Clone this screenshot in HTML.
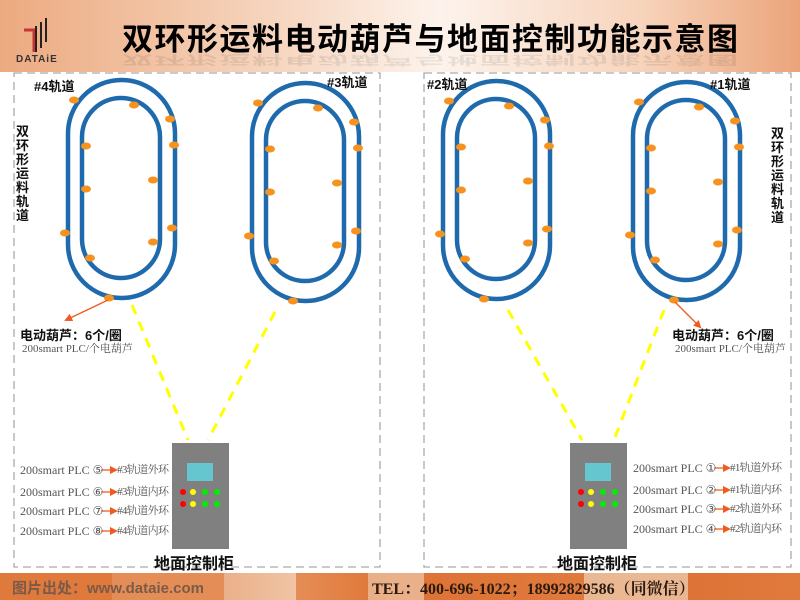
<!DOCTYPE html><html><head><meta charset="utf-8"><style>
body{margin:0;width:800px;height:600px;overflow:hidden;background:#fff;position:relative;font-family:"Liberation Sans","Noto Sans CJK SC",sans-serif}
.a{position:absolute;white-space:nowrap}
.s{font-family:"Liberation Serif","Noto Serif CJK SC",serif;color:#555;font-size:12px;line-height:14px}
.d{font-family:"DejaVu Sans",sans-serif;font-size:12px;font-weight:normal;line-height:14px}
.k{font-size:11px;letter-spacing:-0.6px;line-height:14px}
.b{font-weight:bold;color:#111}
</style></head><body>
<div class="a" style="left:0;top:0;width:800px;height:72px;background:linear-gradient(90deg,#ecaa80 0%,#f6d6c0 35%,#fdf3ec 55%,#f7d4bc 80%,#eba47a 100%)"></div>
<div class="a b" style="left:122px;top:14px;font-size:31px;letter-spacing:1.5px;color:#000">双环形运料电动葫芦与地面控制功能示意图</div>
<div class="a b" style="left:122px;font-size:31px;letter-spacing:1.5px;color:#000;opacity:.08;transform:scaleY(-0.4);transform-origin:top;top:70px">双环形运料电动葫芦与地面控制功能示意图</div>
<svg class="a" style="left:0;top:0" width="800" height="600">
<g fill="none" stroke="#c33" stroke-width="3"><path d="M24 30h10v22"/></g>
<g fill="none" stroke="#222" stroke-width="2"><path d="M36 26v26M41 22v26M46 18v24"/></g>
<g stroke="#aaa" stroke-width="1.3" stroke-dasharray="8,5" fill="none"><rect x="14" y="73" width="366" height="494"/><rect x="424" y="73" width="367" height="494"/></g>
<g stroke="#ffff00" stroke-width="3" stroke-dasharray="10,8"><line x1="132" y1="305" x2="188" y2="440"/><line x1="275" y1="312" x2="208" y2="440"/><line x1="508" y1="310" x2="582" y2="440"/><line x1="664" y1="310" x2="614" y2="440"/></g>
<defs><g id="t"><rect x="0" y="0" width="107" height="218" rx="53.5" fill="none" stroke="#1f6aad" stroke-width="4.5"/><rect x="14" y="18" width="78" height="180" rx="39" fill="none" stroke="#1f6aad" stroke-width="4.5"/>
<g fill="#f7921e"><ellipse cx="6" cy="20" rx="5" ry="3.5"/><ellipse cx="66" cy="25" rx="5" ry="3.5"/><ellipse cx="102" cy="39" rx="5" ry="3.5"/><ellipse cx="106" cy="65" rx="5" ry="3.5"/><ellipse cx="18" cy="66" rx="5" ry="3.5"/><ellipse cx="85" cy="100" rx="5" ry="3.5"/><ellipse cx="18" cy="109" rx="5" ry="3.5"/><ellipse cx="-3" cy="153" rx="5" ry="3.5"/><ellipse cx="104" cy="148" rx="5" ry="3.5"/><ellipse cx="85" cy="162" rx="5" ry="3.5"/><ellipse cx="22" cy="178" rx="5" ry="3.5"/><ellipse cx="41" cy="218" rx="5" ry="3.5"/></g></g>
<g id="c"><rect x="0" y="0" width="57" height="106" fill="#808080"/><rect x="15" y="20" width="26" height="18" fill="#66c6d0"/><g><circle cx="11" cy="49" r="3" fill="#f00"/><circle cx="21" cy="49" r="3" fill="#ff0"/><circle cx="33" cy="49" r="3" fill="#0e0"/><circle cx="45" cy="49" r="3" fill="#0e0"/><circle cx="11" cy="61" r="3" fill="#f00"/><circle cx="21" cy="61" r="3" fill="#ff0"/><circle cx="33" cy="61" r="3" fill="#0e0"/><circle cx="45" cy="61" r="3" fill="#0e0"/></g></g>
<marker id="m" markerWidth="8" markerHeight="8" refX="6" refY="4" orient="auto" markerUnits="userSpaceOnUse"><path d="M0 0L8 4L0 8z" fill="#f05a1e"/></marker></defs>
<use href="#t" x="68" y="80"/><use href="#t" x="252" y="83"/><use href="#t" x="443" y="81"/><use href="#t" x="633" y="82"/>
<use href="#c" x="172" y="443"/><use href="#c" x="570" y="443"/>
<g stroke="#f05a1e" stroke-width="1.3" marker-end="url(#m)"><line x1="108" y1="300" x2="66" y2="320"/><line x1="675" y1="302" x2="700" y2="327"/>
<line x1="101" y1="470" x2="116" y2="470"/><line x1="101" y1="492" x2="116" y2="492"/><line x1="101" y1="511" x2="116" y2="511"/><line x1="101" y1="531" x2="116" y2="531"/>
<line x1="714" y1="468" x2="729" y2="468"/><line x1="714" y1="490" x2="729" y2="490"/><line x1="714" y1="509" x2="729" y2="509"/><line x1="714" y1="529" x2="729" y2="529"/></g>
</svg>
<div class="a" style="left:16px;top:54px;font-size:10px;font-weight:bold;color:#333;letter-spacing:1px">DATAiE</div>
<div class="a b" style="left:34px;top:76px;font-size:13px">#4轨道</div>
<div class="a b" style="left:327px;top:72px;font-size:13px">#3轨道</div>
<div class="a b" style="left:427px;top:74px;font-size:13px">#2轨道</div>
<div class="a b" style="left:710px;top:74px;font-size:13px">#1轨道</div>
<div class="a b" style="left:16px;top:125px;font-size:13px;line-height:14px;white-space:normal;width:14px">双环形运料轨道</div>
<div class="a b" style="left:771px;top:127px;font-size:13px;line-height:14px;white-space:normal;width:14px">双环形运料轨道</div>
<div class="a b" style="left:20px;top:325px;font-size:13px">电动葫芦：6个/圈</div>
<div class="a s" style="left:22px;top:342px;font-size:11px">200smart PLC/个电葫芦</div>
<div class="a b" style="left:672px;top:325px;font-size:13px">电动葫芦：6个/圈</div>
<div class="a s" style="left:675px;top:342px;font-size:11px">200smart PLC/个电葫芦</div>
<div class="a s" style="left:20px;top:463px">200smart PLC <span class="d">⑤</span></div><div class="a s k" style="left:117px;top:463px">#3轨道外环</div>
<div class="a s" style="left:20px;top:485px">200smart PLC <span class="d">⑥</span></div><div class="a s k" style="left:117px;top:485px">#3轨道内环</div>
<div class="a s" style="left:20px;top:504px">200smart PLC <span class="d">⑦</span></div><div class="a s k" style="left:117px;top:504px">#4轨道外环</div>
<div class="a s" style="left:20px;top:524px">200smart PLC <span class="d">⑧</span></div><div class="a s k" style="left:117px;top:524px">#4轨道内环</div>
<div class="a s" style="left:633px;top:461px">200smart PLC <span class="d">①</span></div><div class="a s k" style="left:730px;top:461px">#1轨道外环</div>
<div class="a s" style="left:633px;top:483px">200smart PLC <span class="d">②</span></div><div class="a s k" style="left:730px;top:483px">#1轨道内环</div>
<div class="a s" style="left:633px;top:502px">200smart PLC <span class="d">③</span></div><div class="a s k" style="left:730px;top:502px">#2轨道外环</div>
<div class="a s" style="left:633px;top:522px">200smart PLC <span class="d">④</span></div><div class="a s k" style="left:730px;top:522px">#2轨道内环</div>
<div class="a b" style="left:154px;top:550px;font-size:16px">地面控制柜</div>
<div class="a b" style="left:557px;top:550px;font-size:16px">地面控制柜</div>
<div class="a" style="left:0;top:573px;width:800px;height:27px;background:linear-gradient(90deg,#e07a3c 0%,#e07a3c 14%,#e58d56 14%,#e58d56 28%,#eab08a 28%,#f0c4a4 37%,#e58d56 37%,#e07a3c 46%,#e9b088 46%,#eab08a 53%,#dd7336 53%,#e07a3c 73%,#eab893 73%,#e9b893 86%,#dd7336 86%,#e07a3c 100%)"></div>
<div class="a" style="left:12px;top:577px;font-size:15px;font-weight:bold;color:#7a5a48">图片出处：www.dataie.com</div>
<div class="a" style="left:372px;top:576px;font-size:16px;font-weight:bold;color:#2a1a10;font-family:'Liberation Serif','Noto Serif CJK SC',serif">TEL：400-696-1022；18992829586（同微信）</div>
</body></html>
